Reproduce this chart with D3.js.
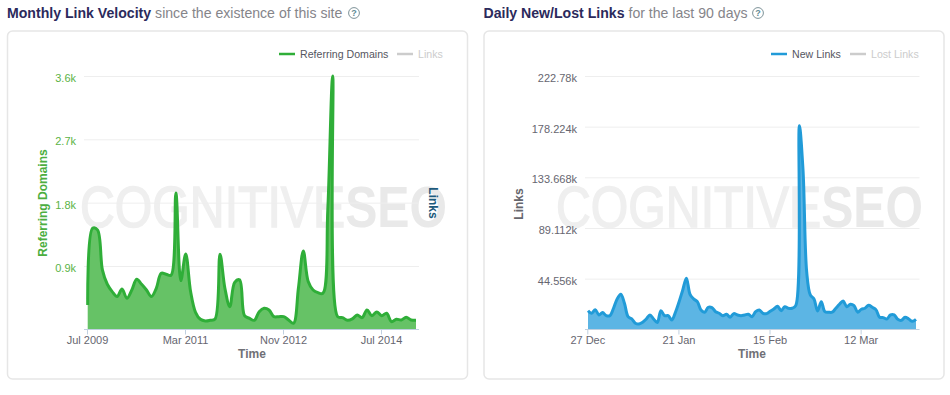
<!DOCTYPE html>
<html>
<head>
<meta charset="utf-8">
<script src="https://cdn.jsdelivr.net/npm/d3@7"></script>
<style>
  html, body { margin: 0; padding: 0; background: #fff; }
  text { font-family: "Liberation Sans", Arial, sans-serif; }
</style>
</head>
<body>
<svg id="chart" width="950" height="395"></svg>
<script>
// monthly referring domains, Jul 2009 onwards
const referringDomains = [346, 1436, 1413, 844, 640, 536, 465, 574, 441, 559, 711, 640, 559, 465, 583, 796, 782, 768,
    1938, 692, 1071, 536, 242, 142, 119, 128, 147, 1067, 583, 322, 668, 702, 194, 156, 128, 251, 299, 275, 180, 180,
    180, 133, 85, 583, 1114, 678, 559, 521, 512, 1700, 3600, 180, 166, 128, 147, 204, 166, 275, 194, 246, 194, 228,
    109, 142, 133, 171, 133, 128];
const monthlyTicks = [0, 20, 40, 60];
const monthlyTickLabels = ["Jul 2009", "Mar 2011", "Nov 2012", "Jul 2014"];
const monthlyYTicks = [900, 1800, 2700, 3600];

// daily new links (in thousands), 27 Dec onwards
const newLinks = [16.4, 14.1, 17.3, 12.6, 14.7, 12.0, 12.0, 18.5, 26.7, 30.8, 22.9, 11.1, 9.1, 5.3, 4.7, 6.2, 9.1, 12.6,
    9.1, 5.9, 16.4, 12.0, 12.0, 8.2, 15.0, 24.3, 34.6, 44.9, 30.8, 26.7, 24.3, 17.0, 15.0, 19.4, 19.1, 15.5, 14.1, 12.0,
    13.2, 10.6, 13.8, 12.6, 12.0, 12.6, 13.2, 11.1, 15.5, 17.0, 14.1, 13.8, 15.8, 17.9, 20.2, 16.4, 19.9, 18.5, 18.5,
    20.8, 179, 140, 50.7, 30.2, 26.7, 16.1, 24.3, 15.5, 15.0, 15.0, 18.5, 22.0, 24.9, 19.9, 22.0, 20.8, 15.0, 17.6, 18.5,
    21.1, 19.4, 17.3, 10.6, 10.3, 9.1, 12.6, 12.6, 8.8, 7.9, 10.6, 9.1, 7.0, 8.8];
const dailyTicks = [0, 25, 50, 75];
const dailyTickLabels = ["27 Dec", "21 Jan", "15 Feb", "12 Mar"];
const dailyYTicks = [44.556, 89.112, 133.668, 178.224, 222.78];

const svg = d3.select("#chart");

function drawPanel(cfg) {
    const g = svg.append("g");

    // card
    g.append("rect")
        .attr("x", cfg.left).attr("y", 31)
        .attr("width", 460).attr("height", 348)
        .attr("rx", 5)
        .attr("fill", "#fff")
        .attr("stroke", "#e6e6e6")
        .attr("stroke-width", 1.5);

    // heading
    const head = g.append("text").attr("x", cfg.left - 0.5).attr("y", 18).attr("font-size", 14.1);
    head.append("tspan").attr("font-weight", "bold").attr("fill", "#2b2a5c").text(cfg.title);
    head.append("tspan").attr("fill", "#85858a").attr("dx", 4).text(cfg.subtitle);

    // help icon
    g.append("circle").attr("cx", cfg.helpX).attr("cy", 13).attr("r", 5.4)
        .attr("fill", "none").attr("stroke", "#7d9298").attr("stroke-width", 1);
    g.append("text").attr("x", cfg.helpX).attr("y", 16.3).attr("text-anchor", "middle")
        .attr("font-size", 9).attr("font-weight", "bold").attr("fill", "#5f8a94").text("?");

    // watermark
    const mark = g.append("text").attr("x", cfg.markX).attr("y", 227)
        .attr("font-size", 57).attr("fill", "#efefef")
        .attr("textLength", 367).attr("lengthAdjust", "spacingAndGlyphs");
    mark.append("tspan").attr("stroke", "#efefef").attr("stroke-width", 1.5).text("COGNITIVE");
    mark.append("tspan").attr("font-weight", "bold").attr("fill", "#e9e9e9").text("SEO");

    const x = d3.scaleLinear().domain([0, cfg.values.length - 1]).range(cfg.xRange);
    const y = d3.scaleLinear().domain(cfg.yDomain).range([329.3, 76]);

    // grid
    g.append("g")
        .attr("transform", `translate(${cfg.axisX[0]},0)`)
        .call(d3.axisLeft(y).tickValues(cfg.yTicks).tickSize(-(cfg.axisX[1] - cfg.axisX[0])).tickFormat(cfg.yFormat).tickPadding(8))
        .call(a => a.select(".domain").remove())
        .call(a => a.selectAll(".tick line").attr("stroke", "#eeeeee").attr("stroke-width", 1))
        .call(a => a.selectAll(".tick text")
            .attr("font-size", 11).attr("fill", cfg.yColor).attr("dy", "0.5em").attr("font-family", "Liberation Sans"));

    // area + line
    const area = d3.area().x((d, i) => x(i)).y0(y(0)).y1(d => y(d)).curve(d3.curveCatmullRom.alpha(0.5));
    const line = d3.line().x((d, i) => x(i)).y(d => y(d)).curve(d3.curveCatmullRom.alpha(0.5));
    g.append("path").datum(cfg.values).attr("d", area).attr("fill", cfg.fill);
    g.append("path").datum(cfg.values).attr("d", line)
        .attr("fill", "none").attr("stroke", cfg.color).attr("stroke-width", 3);

    // x axis
    const tickScale = d3.scaleLinear().domain([0, cfg.values.length - 1]).range(cfg.tickRange);
    g.append("g")
        .attr("transform", "translate(0,329.5)")
        .call(d3.axisBottom(tickScale).tickValues(cfg.xTicks).tickSize(5).tickPadding(2)
            .tickFormat((d, i) => cfg.xLabels[i]))
        .call(a => a.select(".domain").remove())
        .call(a => a.selectAll(".tick line").attr("stroke", "#c0d0e0"))
        .call(a => a.selectAll(".tick text").attr("font-size", 11).attr("fill", "#666670").attr("font-family", "Liberation Sans"));
    g.append("line")
        .attr("x1", cfg.axisX[0]).attr("x2", cfg.axisX[1])
        .attr("y1", 329.5).attr("y2", 329.5)
        .attr("stroke", "#c0d0e0");

    // axis titles
    g.append("text").attr("x", cfg.timeX).attr("y", 358).attr("text-anchor", "middle")
        .attr("font-size", 12).attr("font-weight", "bold").attr("fill", "#707076").text("Time");
    g.append("text")
        .attr("transform", `translate(${cfg.yTitleX},${cfg.yTitleY}) rotate(-90)`)
        .attr("text-anchor", "middle").attr("font-size", 12).attr("font-weight", "bold")
        .attr("fill", cfg.yTitleColor).text(cfg.yTitle);

    // legend
    cfg.legend.forEach(item => {
        g.append("line").attr("x1", item.x).attr("x2", item.x + 16).attr("y1", 54).attr("y2", 54)
            .attr("stroke", item.color).attr("stroke-width", 2.5);
        g.append("text").attr("x", item.x + 21).attr("y", 58).attr("font-size", 10.6)
            .attr("fill", item.textColor).text(item.label);
    });
}

drawPanel({
    left: 7.5,
    title: "Monthly Link Velocity",
    subtitle: "since the existence of this site",
    helpX: 354,
    markX: 80,
    values: referringDomains,
    xRange: [87.7, 416],
    tickRange: [87, 415.3],
    axisX: [84, 419],
    yDomain: [0, 3600],
    yTicks: monthlyYTicks,
    yFormat: d => (d / 1000).toFixed(1) + "k",
    yColor: "#5bb346",
    xTicks: monthlyTicks,
    xLabels: monthlyTickLabels,
    color: "#2fae38",
    fill: "#66c266",
    timeX: 252,
    yTitle: "Referring Domains",
    yTitleX: 47,
    yTitleY: 203,
    yTitleColor: "#4cae3f",
    legend: [
        { x: 279, color: "#2fae38", label: "Referring Domains", textColor: "#555560" },
        { x: 397, color: "#cccccc", label: "Links", textColor: "#cccccc" }
    ]
});

drawPanel({
    left: 484,
    title: "Daily New/Lost Links",
    subtitle: "for the last 90 days",
    helpX: 758,
    markX: 556,
    values: newLinks,
    xRange: [588, 916],
    tickRange: [587.3, 915.3],
    axisX: [585, 919.5],
    yDomain: [0, 222.78],
    yTicks: dailyYTicks,
    yFormat: d => d + "k",
    yColor: "#666670",
    xTicks: dailyTicks,
    xLabels: dailyTickLabels,
    color: "#219bd8",
    fill: "#5cb5e4",
    timeX: 752,
    yTitle: "Links",
    yTitleX: 523,
    yTitleY: 204,
    yTitleColor: "#66666c",
    legend: [
        { x: 771, color: "#219bd8", label: "New Links", textColor: "#555560" },
        { x: 850, color: "#cccccc", label: "Lost Links", textColor: "#cccccc" }
    ]
});

// secondary axis title on the left card
svg.append("text")
    .attr("transform", "translate(429,203) rotate(90)")
    .attr("text-anchor", "middle")
    .attr("font-size", 12).attr("font-weight", "bold")
    .attr("fill", "#1d5a7c")
    .text("Links");
</script>
</body>
</html>
